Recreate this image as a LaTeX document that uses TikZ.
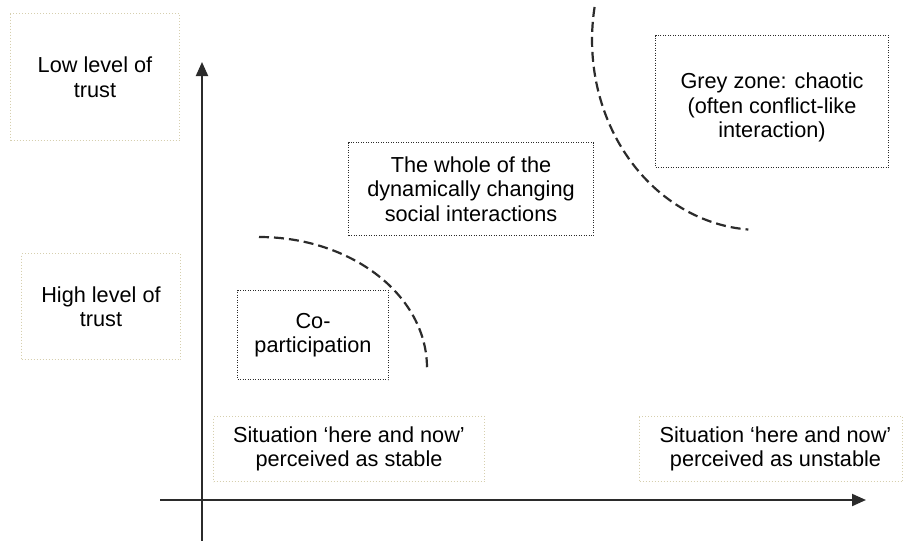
\documentclass[tikz,border=0pt]{standalone}
\usepackage{fontspec}
\setmainfont{Liberation Sans}
\usetikzlibrary{arrows.meta}
\definecolor{tanline}{HTML}{D6CFAE}
\definecolor{ink}{HTML}{2B2B2B}
\begin{document}
\begin{tikzpicture}[x=1pt,y=-1pt,
  font=\fontsize{21.7}{24.5}\selectfont,
  lbl/.style={draw=tanline, line width=1pt, dash pattern=on 1pt off 2pt, align=center, inner sep=0pt, anchor=north west},
  zone/.style={draw=ink, line width=1pt, dash pattern=on 1pt off 1.5pt, align=center, inner sep=0pt, anchor=north west},
  txt/.style={align=center, inner sep=0pt},
  axis/.style={draw=ink, line width=2pt, -{Triangle[length=14pt,width=12pt]}},
  bound/.style={draw=ink, line width=2.2pt, dash pattern=on 10pt off 5pt}]
\useasboundingbox (0,0) rectangle (903,541);
\fill[white] (0,0) rectangle (903,541);

% label boxes
\node[lbl, minimum width=169pt, minimum height=127pt] (low) at (10,13) {Low level of\\trust};
\node[lbl, minimum width=159pt, minimum height=106pt] (high) at (21,253) {High level of\\trust};
\node[lbl, minimum width=271pt, minimum height=65pt] (stable) at (213,416) {Situation ‘here and now’\\perceived as stable};
\node[lbl, minimum width=263pt, minimum height=65pt] (unstable) at (639,416) {};
\node[txt] (unstabletext) at ([xshift=4.5pt]unstable.center) {Situation ‘here and now’\\perceived as unstable};

% zone boxes
\node[zone, minimum width=151pt, minimum height=89pt] (co) at (237,290) {Co-\\participation};
\node[zone, minimum width=245pt, minimum height=93pt] (whole) at (348,142) {The whole of the\\dynamically changing\\social interactions};
\node[zone, minimum width=233pt, minimum height=132pt] (grey) at (655,35) {};
\node[txt] (greytext) at ([yshift=-6pt]grey.center) {Grey zone: chaotic\\(often conflict-like\\interaction)};

% axes
\coordinate (vb) at (202,541);
\coordinate (vt) at (202,62);
\coordinate (hl) at (160,500);
\coordinate (hr) at (866,500);
\draw[axis] (vb) -- (vt);
\draw[axis] (hl) -- (hr);

% dashed boundaries
\draw[bound] (259,237) arc[start angle=-90, end angle=0, x radius=168, y radius=131];
\draw[bound] (594.6,7) arc[start angle=190, end angle=94, x radius=168, y radius=190];
\end{tikzpicture}
\end{document}
